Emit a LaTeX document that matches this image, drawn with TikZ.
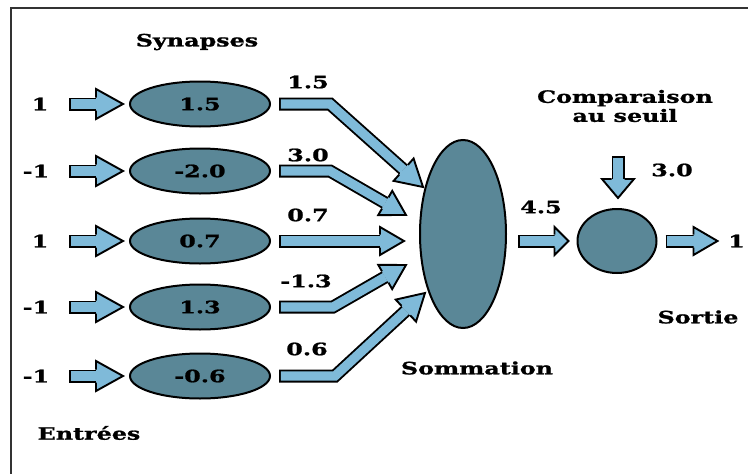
\documentclass[tikz,border=0pt]{standalone}
\usepackage{fontspec}
\newfontfamily\pix[FakeStretch=1.4,FakeBold=1.2]{DejaVu Serif}
\usetikzlibrary{calc,shapes.geometric}
\definecolor{ell}{HTML}{5A8797}
\definecolor{lb}{HTML}{7FBAD9}
\newcommand{\bshaft}[1]{%
  \draw[line width=13pt, line join=miter] #1;
  \draw[lb, line width=9.2pt, line join=miter, shorten <=1.9pt] #1;}
\newcommand{\bhead}[3]{% base P, tip T, half width
  \fill[lb] ($(#1)!#3!90:(#2)$) -- (#2) -- ($(#1)!#3!-90:(#2)$) -- cycle;
  \draw[line width=1.9pt, line join=miter]
    ($(#1)!6.5pt!90:(#2)$) -- ($(#1)!#3!90:(#2)$) -- (#2) --
    ($(#1)!#3!-90:(#2)$) -- ($(#1)!6.5pt!-90:(#2)$);}
\tikzset{
  txt/.style={font=\pix\bfseries\fontsize{17}{19}\selectfont, inner sep=0pt},
  syn/.style={ellipse, draw, line width=2pt, fill=ell, minimum width=140pt,
              minimum height=45pt, inner sep=0pt, txt},
}
\begin{document}
\begin{tikzpicture}[x=1pt,y=-1pt]
\useasboundingbox (0,0) rectangle (748,474);
\fill[white] (0,0) rectangle (748,474);
\draw[line width=1.5pt, black!80] (11,474) -- (11,8) -- (748,8);

% titles
\node[txt] (tsyn) at (197,42) {Synapses};
\node[txt] (tent) at (89,433) {Entrées};
\node[txt, align=center] (tcmp) at (625,106) {Comparaison\\au seuil};
\node[txt] (tsom) at (477,368) {Sommation};
\node[txt] (tsor) at (698,317) {Sortie};

% synapses
\node[syn] (s1) at (200,104) {1.5};
\node[syn] (s2) at (200,171) {-2.0};
\node[syn] (s3) at (200,241) {0.7};
\node[syn] (s4) at (200,307) {1.3};
\node[syn] (s5) at (200,376) {-0.6};

% inputs
\node[txt] (i1) at (40,104) {1};
\node[txt] (i2) at (36,171) {-1};
\node[txt] (i3) at (40,241) {1};
\node[txt] (i4) at (36,307) {-1};
\node[txt] (i5) at (36,376) {-1};

\foreach \k in {1,...,5}{
  \bshaft{($(s\k.west)+(-60,0)$) -- ($(s\k.west)+(-33,0)$)}
  \bhead{$(s\k.west)+(-33,0)$}{$(s\k.west)+(-6,0)$}{15pt}
}

% summation and comparison
\node[ellipse, draw, line width=2pt, fill=ell, minimum width=86pt,
      minimum height=188pt, inner sep=0pt] (sum) at (463,234) {};
\node[ellipse, draw, line width=2pt, fill=ell, minimum width=79pt,
      minimum height=64pt, inner sep=0pt] (cmp) at (617,241) {};

% weighted pipes
\coordinate (k1) at (330,104); \coordinate (t1) at (423,187);
\coordinate (k2) at (330,171); \coordinate (t2) at (406,215);
\coordinate (t3) at (404,241);
\coordinate (k4) at (333,307); \coordinate (t4) at (406,265);
\coordinate (k5) at (335,376); \coordinate (t5) at (425,293);

\bshaft{($(s1.east)+(8,0)$) -- (k1) -- ($(t1)!26pt!(k1)$)}
\bhead{$(t1)!26pt!(k1)$}{t1}{15pt}
\bshaft{($(s2.east)+(8,0)$) -- (k2) -- ($(t2)!24pt!(k2)$)}
\bhead{$(t2)!24pt!(k2)$}{t2}{14pt}
\bshaft{($(s3.east)+(8,0)$) -- ($(t3)+(-24,0)$)}
\bhead{$(t3)+(-24,0)$}{t3}{14pt}
\bshaft{($(s4.east)+(8,0)$) -- (k4) -- ($(t4)!24pt!(k4)$)}
\bhead{$(t4)!24pt!(k4)$}{t4}{14pt}
\bshaft{($(s5.east)+(8,0)$) -- (k5) -- ($(t5)!26pt!(k5)$)}
\bhead{$(t5)!26pt!(k5)$}{t5}{15pt}

\node[txt] (w1) at (308,82) {1.5};
\node[txt] (w2) at (308,155) {3.0};
\node[txt] (w3) at (308,215) {0.7};
\node[txt] (w4) at (306,281) {-1.3};
\node[txt] (w5) at (307,349) {0.6};

% sum -> comparison
\bshaft{($(sum.east |- cmp.west)+(11,0)$) -- ($(cmp.west)+(-22,0)$)}
\bhead{$(cmp.west)+(-22,0)$}{$(cmp.west)+(-8,0)$}{14pt}
\node[txt] (vsum) at (541,207) {4.5};

% threshold arrow
\bshaft{($(cmp.north)+(1,-52)$) -- ($(cmp.north)+(1,-29)$)}
\bhead{$(cmp.north)+(1,-29)$}{$(cmp.north)+(1,-10)$}{16pt}
\node[txt] (thr) at (672,170) {3.0};

% output
\bshaft{($(cmp.east)+(8,0)$) -- ($(cmp.east)+(36,0)$)}
\bhead{$(cmp.east)+(36,0)$}{$(cmp.east)+(60,0)$}{14pt}
\node[txt, anchor=west] (out) at (728,241) {1};
\end{tikzpicture}
\end{document}
